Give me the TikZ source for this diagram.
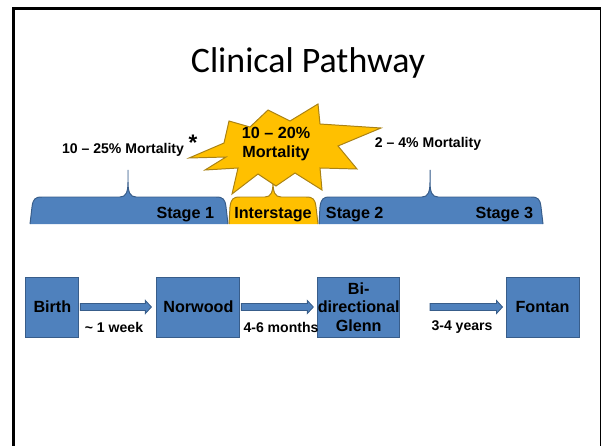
\documentclass[tikz,border=0pt]{standalone}
\usepackage{fontspec}
\setmainfont{Liberation Sans}
\newfontfamily\titlefont{Carlito}
\usetikzlibrary{calc}
\definecolor{stageblue}{RGB}{79,129,189}
\definecolor{edgeblue}{RGB}{56,93,138}
\definecolor{gold}{RGB}{255,192,0}
\definecolor{edgegold}{RGB}{170,130,20}

\begin{document}
\begin{tikzpicture}[x=0.025cm, y=-0.025cm,
    stepbox/.style={fill=stageblue, draw=edgeblue, line width=0.7pt, inner sep=0pt,
        minimum height=1.5cm, align=center, font=\fontsize{11.5}{13}\selectfont\bfseries},
    steplabel/.style={font=\fontsize{10}{12}\selectfont\bfseries},
    stagelabel/.style={font=\fontsize{11.5}{13}\selectfont\bfseries},
    flowarrow/.style={fill=stageblue, draw=edgeblue, line width=0.6pt}]
    \useasboundingbox (0,0) rectangle (602,445);

    % Slide frame
    \draw[line width=2.1pt] (13.5,450) -- (13.5,8.5) -- (601,8.5);
    \draw[line width=1.4pt] (600.5,8.5) -- (600.5,450);

    % Title
    \node[font=\titlefont\fontsize{25.5}{30}\selectfont] (title) at (308,63) {Clinical Pathway};

    % Stage 1 brace
    \fill[stageblue] (30,224) -- (32,207) .. controls (33,199) and (35,197) .. (42,197)
        -- (120,197) .. controls (126,197) and (128,192) .. (128,182) -- (128,170) -- (128,182)
        .. controls (128,192) and (130,197) .. (136,197) -- (216,197)
        .. controls (223,197) and (225,199) .. (226,207) -- (228,224) -- cycle;
    \draw[edgeblue, line width=0.7pt] (30,224) -- (32,207) .. controls (33,199) and (35,197) .. (42,197)
        -- (120,197) .. controls (126,197) and (128,192) .. (128,182) -- (128,170) -- (128,182)
        .. controls (128,192) and (130,197) .. (136,197) -- (216,197)
        .. controls (223,197) and (225,199) .. (226,207) -- (228,224);

    % Interstage brace
    \fill[gold] (229,224) -- (230,207) .. controls (231,199) and (233,197) .. (240,197)
        -- (265,197) .. controls (271,197) and (273,192) .. (273,182) -- (273,170) -- (273,182)
        .. controls (273,192) and (275,197) .. (281,197) -- (306,197)
        .. controls (313,197) and (315,199) .. (316,207) -- (318,224) -- cycle;
    \draw[edgegold, line width=0.7pt] (229,224) -- (230,207) .. controls (231,199) and (233,197) .. (240,197)
        -- (265,197) .. controls (271,197) and (273,192) .. (273,182) -- (273,170) -- (273,182)
        .. controls (273,192) and (275,197) .. (281,197) -- (306,197)
        .. controls (313,197) and (315,199) .. (316,207) -- (318,224);

    % Stage 2 + 3 brace
    \fill[stageblue] (319,224) -- (320,207) .. controls (321,199) and (323,197) .. (330,197)
        -- (422,197) .. controls (428,197) and (430,192) .. (430,182) -- (430,170) -- (430,182)
        .. controls (430,192) and (432,197) .. (438,197) -- (531,197)
        .. controls (538,197) and (540,199) .. (541,207) -- (543,224) -- cycle;
    \draw[edgeblue, line width=0.7pt] (319,224) -- (320,207) .. controls (321,199) and (323,197) .. (330,197)
        -- (422,197) .. controls (428,197) and (430,192) .. (430,182) -- (430,170) -- (430,182)
        .. controls (430,192) and (432,197) .. (438,197) -- (531,197)
        .. controls (538,197) and (540,199) .. (541,207) -- (543,224);

    % Stage labels
    \node[stagelabel, anchor=east] (stage1) at (219,215) {Stage 1};
    \node[stagelabel] (interstage) at (273,215) {Interstage};
    \node[stagelabel, anchor=west] (stage2) at (321,215) {Stage 2};
    \node[stagelabel, anchor=east] (stage3) at (538,215) {Stage 3};

    % Starburst
    \filldraw[fill=gold, draw=edgegold, line width=0.7pt]
        (189,158) -- (224,143) -- (229,121) -- (250,127) -- (268,110) -- (290,121)
        -- (318,104) -- (320,124) -- (381,128) -- (338,146) -- (357,169) -- (320,168)
        -- (322,190) -- (295,173) -- (276,186) -- (258,174) -- (232,194) -- (238,168)
        -- (205,170) -- (226,157) -- cycle;

    % Mortality labels
    \node[steplabel] (mort1) at (123,150) {10 -- 25\% Mortality};
    \node[font=\fontsize{16}{16}\selectfont\bfseries] (asterisk) at (193,143) {*};
    \node[align=center, font=\fontsize{11.5}{13}\selectfont\bfseries] (mort2) at (276,144) {10 -- 20\%\\Mortality};
    \node[steplabel] (mort3) at (428,144) {2 -- 4\% Mortality};

    % Procedure boxes
    \node[stepbox, minimum width=1.325cm] (birth) at (52.4,307) {Birth};
    \node[stepbox, minimum width=2.075cm] (norwood) at (198.4,307) {Norwood};
    \node[stepbox, minimum width=1.975cm] (glenn) at (358.7,307) {Bi-\\directional\\Glenn};
    \node[stepbox, minimum width=1.825cm] (fontan) at (542.5,307) {Fontan};

    % Block arrows
    \filldraw[flowarrow] ($(birth.east)+(1,-3.5)$) -- ($(norwood.west)+(-11,-3.5)$)
        -- ($(norwood.west)+(-11,-6.5)$) -- ($(norwood.west)+(-5,0)$) -- ($(norwood.west)+(-11,6.5)$)
        -- ($(norwood.west)+(-11,3.5)$) -- ($(birth.east)+(1,3.5)$) -- cycle;
    \filldraw[flowarrow] ($(norwood.east)+(1,-3.5)$) -- ($(glenn.west)+(-10,-3.5)$)
        -- ($(glenn.west)+(-10,-6.5)$) -- ($(glenn.west)+(-4,0)$) -- ($(glenn.west)+(-10,6.5)$)
        -- ($(glenn.west)+(-10,3.5)$) -- ($(norwood.east)+(1,3.5)$) -- cycle;
    \filldraw[flowarrow] ($(glenn.east)+(30,-3.5)$) -- ($(fontan.west)+(-9,-3.5)$)
        -- ($(fontan.west)+(-9,-6.5)$) -- ($(fontan.west)+(-3,0)$) -- ($(fontan.west)+(-9,6.5)$)
        -- ($(fontan.west)+(-9,3.5)$) -- ($(glenn.east)+(30,3.5)$) -- cycle;

    % Interval labels
    \node[steplabel] (week) at (114,327) {\textasciitilde{} 1 week};
    \node[steplabel] (months) at (281,327) {4-6 months};
    \node[steplabel] (years) at (462,327) {3-4 years};
\end{tikzpicture}
\end{document}
